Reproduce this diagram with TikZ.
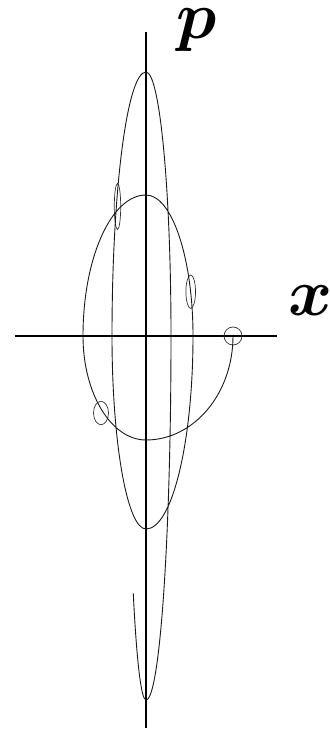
\documentclass[tikz,border=0pt]{standalone}
\usepackage{amsmath}
\usetikzlibrary{shapes.geometric}
\begin{document}
\begin{tikzpicture}[x=1pt,y=1pt,
  axis/.style={line width=1.1pt, black},
  spiral/.style={line width=0.9pt, black!90},
  blob/.style={draw, ellipse, line width=0.7pt, black!80, inner sep=0pt, outer sep=0pt},
  lbl/.style={inner sep=0pt, scale=6.7}]
\useasboundingbox (-146,-394) rectangle (183,336);
% axes
\coordinate (xl) at (-131,0);
\coordinate (xr) at (131,0);
\coordinate (pt) at (0,304);
\coordinate (pb) at (0,-392);
\draw[axis] (xl) -- (xr);
\draw[axis] (pb) -- (pt);
% labels
\node[lbl] (plabel) at (51,306) {$\boldsymbol{p}$};
\node[lbl] (xlabel) at (164.5,35) {$\boldsymbol{x}$};
% uncertainty blobs
\node[blob, minimum width=18pt, minimum height=18pt] (m1) at (87,0) {};
\node[blob, minimum width=15pt, minimum height=23.4pt] (m2) at (-45,-77) {};
\node[blob, minimum width=9.6pt, minimum height=33.4pt] (m3) at (44.7,44.3) {};
\node[blob, minimum width=6.4pt, minimum height=46pt] (m4) at (-28.5,129.5) {};
% spiral trajectory
\draw[spiral] (m1.center)
  arc[start angle=0, end angle=-90, x radius=87, y radius=104]
  arc[start angle=-90, end angle=-180, x radius=63, y radius=104]
  arc[start angle=180, end angle=90, x radius=63, y radius=141]
  arc[start angle=90, end angle=0, x radius=47, y radius=141]
  arc[start angle=0, end angle=-90, x radius=47, y radius=193]
  arc[start angle=-90, end angle=-180, x radius=34, y radius=193]
  arc[start angle=180, end angle=90, x radius=34, y radius=264]
  arc[start angle=90, end angle=0, x radius=25, y radius=264]
  arc[start angle=0, end angle=-90, x radius=25, y radius=364]
  arc[start angle=-90, end angle=-135, x radius=18, y radius=364];
\end{tikzpicture}
\end{document}
